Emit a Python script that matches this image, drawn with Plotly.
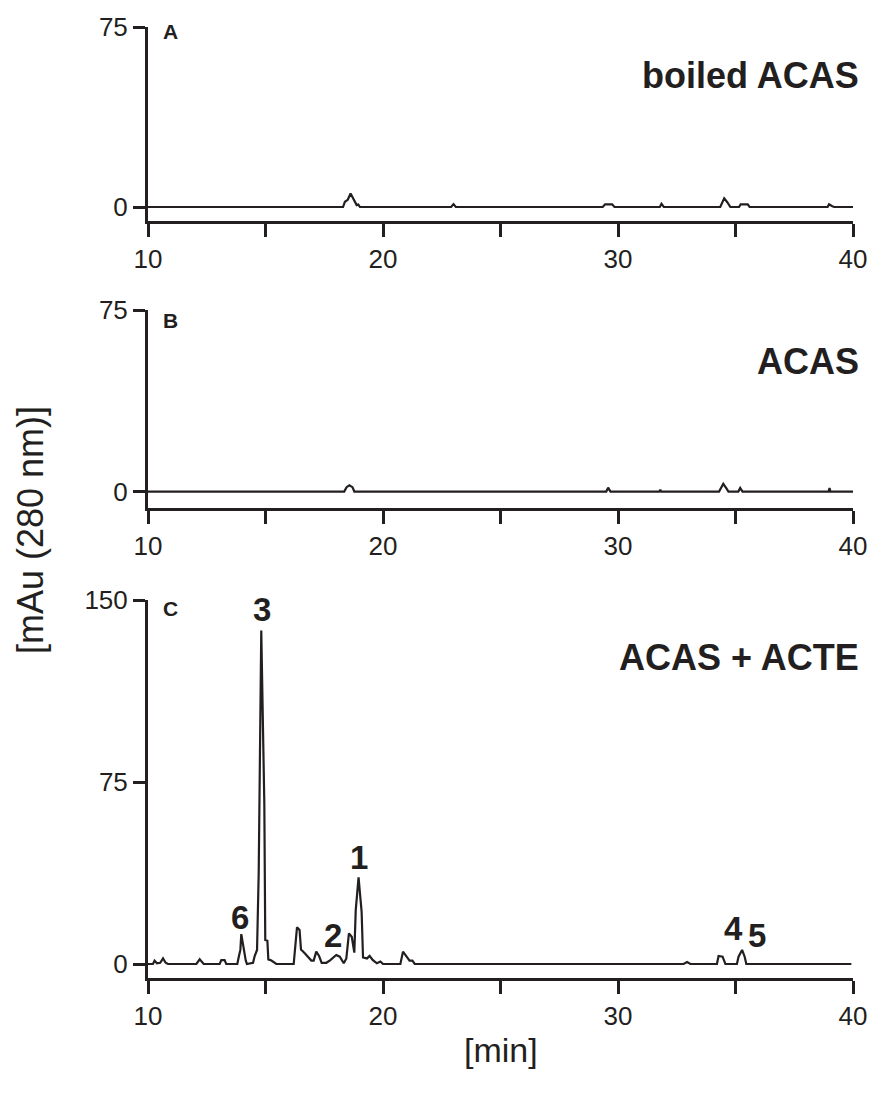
import plotly.graph_objects as go

# ---- data (retention time in min, absorbance in mAu) ----
a_time = [10, 18.3, 18.38, 18.5, 18.62, 18.72, 18.8, 18.88, 18.95, 19.02, 22.9, 23.0, 23.1,
          29.35, 29.45, 29.75, 29.85, 31.78, 31.85, 31.95, 34.35, 34.45, 34.52, 34.65, 34.78,
          35.15, 35.22, 35.52, 35.6, 38.92, 38.98, 39.12, 39.2, 40]
a_mau = [0, 0, 2.2, 3.0, 5.6, 3.5, 1.8, 0.8, 1.0, 0, 0, 1.2, 0,
         0, 1.1, 1.1, 0, 0, 1.3, 0, 0, 2.5, 3.6, 2.0, 0,
         0, 1.1, 1.1, 0, 0, 1.1, 0.3, 0, 0]

b_time = [10, 18.35, 18.45, 18.57, 18.7, 18.78, 29.5, 29.58, 29.68, 31.76, 31.8, 31.84,
          34.3, 34.4, 34.48, 34.6, 34.7, 35.12, 35.2, 35.3, 38.96, 39.0, 39.04, 40]
b_mau = [0, 0, 1.8, 2.6, 1.8, 0, 0, 1.6, 0, 0, 0.7, 0,
         0, 2.2, 3.2, 1.5, 0, 0, 1.5, 0, 0, 1.4, 0, 0]

c_time = [10.0, 10.21, 10.28, 10.38, 10.52, 10.64, 10.75, 10.85, 12.06, 12.2, 12.37,
          13.05, 13.12, 13.26, 13.33, 13.8, 13.87, 13.93, 13.97, 14.03, 14.09, 14.16, 14.21,
          14.47, 14.54, 14.64, 14.71, 14.82, 14.95, 14.99, 15.08, 15.12, 15.25, 15.39, 15.46,
          16.2, 16.26, 16.34, 16.45, 16.51, 16.67, 16.81, 16.95, 17.05, 17.16, 17.28, 17.39,
          17.59, 17.76, 18.01, 18.16, 18.33, 18.44, 18.55, 18.67, 18.78, 18.84, 18.96, 19.09,
          19.15, 19.32, 19.43, 19.57, 19.74, 19.89, 20.0, 20.74, 20.85, 20.99, 21.13, 21.25,
          21.35, 32.79, 32.94, 33.08, 34.21, 34.28, 34.45, 34.57, 35.06, 35.13, 35.28, 35.39,
          35.46, 39.93]
c_mau = [0, 0, 1.4, 0.3, 0.5, 2.3, 0.5, 0, 0, 1.9, 0,
         0, 1.6, 1.6, 0, 0, 3.3, 5.8, 12.3, 8.5, 5.1, 1.4, 0,
         0.5, 3.3, 5.8, 37.3, 137.4, 66.1, 9.9, 9.6, 1.9, 1.4, 0.5, 0,
         0, 6.4, 15.1, 14.0, 6.0, 4.4, 2.7, 1.4, 1.4, 5.1, 3.3, 0.5,
         0.5, 1.6, 3.7, 3.0, 0.3, 2.3, 12.6, 11.2, 4.7, 22.2, 35.7, 21.5,
         2.7, 2.3, 3.3, 1.6, 0.3, 1.0, 0, 0, 5.1, 3.0, 1.4, 1.4,
         0, 0, 0.8, 0, 0, 3.3, 3.0, 0, 0, 3.0, 5.8, 3.0,
         0, 0]

peak_labels = ["3", "6", "2", "1", "4", "5"]
peak_label_time = [14.84, 13.93, 17.89, 18.98, 34.91, 35.93]
peak_label_mau = [145.9, 19.0, 11.9, 43.7, 14.7, 11.7]

x_ticks = [10, 15, 20, 25, 30, 35, 40]
x_tick_text = ["10", "", "20", "", "30", "", "40"]
panel_letters = ["A", "B", "C"]
panel_titles = ["boiled ACAS", "ACAS", "ACAS + ACTE"]

# ---- layout geometry ----
W, H = 872, 1095
ML, MR, MT, MB = 148, 19, 27, 117
PH = H - MT - MB
PW = W - ML - MR


def py(px):
    return (H - MB - px) / PH


def pxx(px):
    return (px - ML) / PW


domains = [[py(221), 1.0], [py(508), py(310)], [0.0, py(600)]]
yranges = [[-5.83, 75], [-6.8, 75], [-5.77, 150]]
yticks = [[0, 75], [0, 75], [0, 75, 150]]

FONT = "Liberation Sans, Arial, Helvetica, sans-serif"
INK = "#231f20"

fig = go.Figure()
series = [(a_time, a_mau), (b_time, b_mau), (c_time, c_mau)]
for i, (t, v) in enumerate(series):
    sfx = "" if i == 0 else str(i + 1)
    fig.add_trace(go.Scatter(x=t, y=v, mode="lines", line=dict(color=INK, width=2.2),
                             xaxis="x" + sfx, yaxis="y" + sfx, showlegend=False,
                             hoverinfo="skip"))

axis_common = dict(showgrid=False, zeroline=False, showline=True, linecolor=INK,
                   linewidth=3, ticks="outside", tickcolor=INK, tickwidth=2.5,
                   ticklen=13, tickfont=dict(family=FONT, size=26, color=INK),
                   automargin=False)
layout = dict(width=W, height=H, margin=dict(l=ML, r=MR, t=MT, b=MB),
              plot_bgcolor="white", paper_bgcolor="white", showlegend=False)
for i in range(3):
    sfx = "" if i == 0 else str(i + 1)
    layout["xaxis" + sfx] = dict(axis_common, range=[10, 40], tickvals=x_ticks,
                                 ticktext=x_tick_text, anchor="y" + sfx,
                                 domain=[0, 1])
    layout["yaxis" + sfx] = dict(axis_common, range=yranges[i], tickvals=yticks[i],
                                 ticktext=[str(v) for v in yticks[i]],
                                 anchor="x" + sfx, domain=domains[i], ticklen=12)
fig.update_layout(**layout)

ann = []
letter_y = [32, 321, 608]
title_y = [75, 361, 657]
for i in range(3):
    ann.append(dict(text="<b>%s</b>" % panel_letters[i], xref="paper", yref="paper",
                    x=pxx(170), y=py(letter_y[i]), xanchor="center", yanchor="middle",
                    showarrow=False, font=dict(family=FONT, size=21, color=INK)))
    ann.append(dict(text="<b>%s</b>" % panel_titles[i], xref="paper", yref="paper",
                    x=pxx(861), y=py(title_y[i]), xanchor="right", yanchor="middle",
                    showarrow=False, font=dict(family=FONT, size=36, color=INK)))
for lab, t, v in zip(peak_labels, peak_label_time, peak_label_mau):
    ann.append(dict(text="<b>%s</b>" % lab, xref="x3", yref="y3", x=t, y=v,
                    xanchor="center", yanchor="middle", showarrow=False,
                    font=dict(family=FONT, size=33, color=INK)))
ann.append(dict(text="[mAu (280 nm)]", xref="paper", yref="paper", x=pxx(30),
                y=py(530), xanchor="center", yanchor="middle", textangle=-90,
                showarrow=False, font=dict(family=FONT, size=36, color=INK)))
ann.append(dict(text="[min]", xref="paper", yref="paper", x=pxx(501), y=py(1050),
                xanchor="center", yanchor="middle", showarrow=False,
                font=dict(family=FONT, size=34, color=INK)))
fig.update_layout(annotations=ann)

fig.write_html("out.html", config={"displayModeBar": False},
               post_script="document.body.style.margin='0';")
